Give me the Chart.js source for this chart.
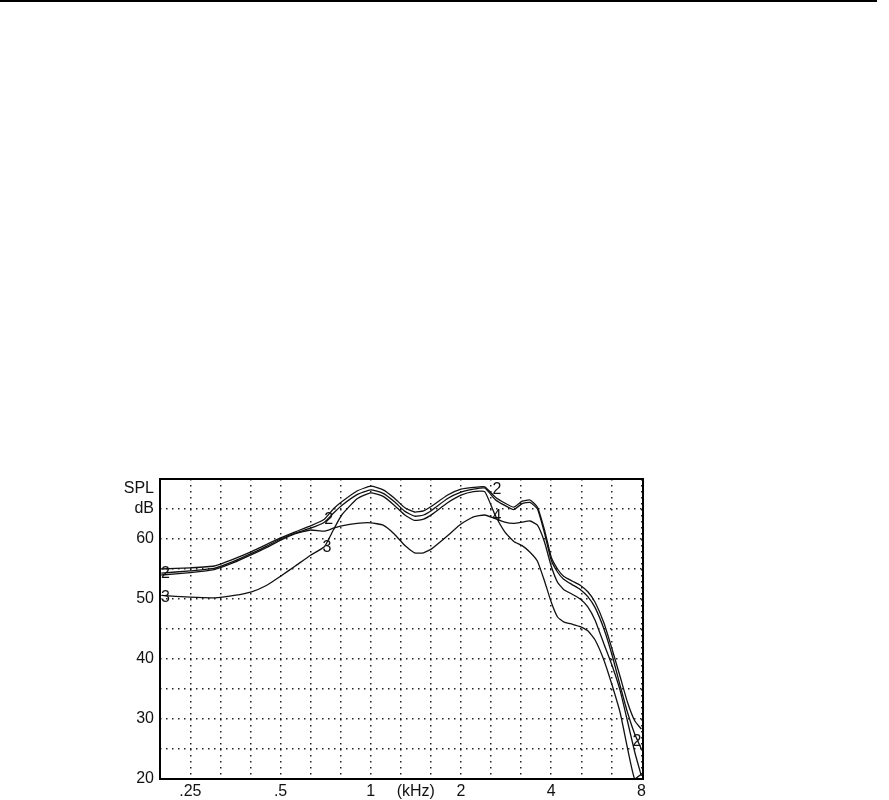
<!DOCTYPE html>
<html>
<head>
<meta charset="utf-8">
<script src="https://cdn.jsdelivr.net/npm/chart.js@4.4.1/dist/chart.umd.min.js"></script>
<style>
  html, body { margin: 0; padding: 0; background: #fff; }
  #topRule { position: absolute; left: 0; top: 0; width: 877px; height: 2px; background: #000; }
  #wrap { position: absolute; left: 0; top: 0; width: 889px; height: 800px; }
</style>
</head>
<body>
<div id="topRule"></div>
<div id="wrap"><canvas id="spl"></canvas></div>
<script>
// frequencies in kHz shared by all curves
const freqs = [0.2, 0.25, 0.3, 0.35, 0.4, 0.45, 0.5, 0.56, 0.63, 0.7, 0.75, 0.8, 0.9, 1.0, 1.1, 1.2, 1.3, 1.4, 1.5, 1.6, 1.8, 2.0, 2.2, 2.4, 2.6, 2.8, 3.0, 3.2, 3.4, 3.6, 3.8, 4.0, 4.2, 4.4, 4.7, 5.0, 5.3, 5.6, 6.0, 6.4, 6.8, 7.2, 7.6, 8.0];

const curve1 = [55.0, 55.2, 55.5, 56.7, 57.9, 59.1, 60.2, 61.2, 62.2, 63.3, 65.0, 66.2, 68.0, 68.8, 68.2, 66.8, 65.2, 64.5, 64.7, 65.5, 67.3, 68.3, 68.6, 68.7, 67.0, 66.0, 65.3, 66.3, 66.5, 65.3, 61.5, 57.0, 55.0, 53.8, 53.0, 52.3, 51.2, 49.5, 46.0, 41.5, 37.0, 32.7, 29.7, 28.3];
const curve2 = [54.3, 54.7, 55.1, 56.3, 57.6, 58.8, 60.0, 61.0, 61.8, 62.8, 64.3, 65.6, 67.4, 68.2, 67.6, 66.2, 64.6, 63.8, 64.0, 64.8, 66.7, 67.8, 68.3, 68.5, 66.6, 65.6, 64.9, 65.9, 66.1, 65.0, 61.0, 56.5, 54.5, 53.3, 52.4, 51.6, 50.4, 48.6, 45.0, 40.5, 35.5, 31.0, 27.5, 25.0];
const curve3 = [50.6, 50.3, 50.2, 50.6, 51.2, 52.3, 53.8, 55.5, 57.3, 58.7, 61.5, 64.0, 66.7, 67.7, 67.1, 65.6, 64.0, 63.1, 63.3, 64.1, 66.0, 67.3, 67.9, 67.9, 64.0, 61.2, 59.6, 58.9, 57.8, 56.3, 53.0, 49.5, 47.0, 46.2, 45.8, 45.4, 44.7, 43.2, 39.8, 35.5, 31.0, 25.0, 20.0, 20.8];
const curve4 = [54.0, 54.4, 54.9, 56.1, 57.4, 58.6, 59.8, 60.9, 61.5, 61.3, 61.8, 62.2, 62.6, 62.7, 62.3, 60.8, 58.9, 57.7, 57.7, 58.4, 60.5, 62.5, 63.7, 64.0, 63.4, 62.8, 62.6, 62.8, 63.0, 62.3, 59.5, 55.5, 52.8, 51.6, 50.8, 50.0, 48.7, 46.5, 42.5, 38.8, 34.7, 29.5, 24.5, 20.5];

// third-octave grid, labelled at the octaves
const gridFreqs = [0.25, 0.315, 0.397, 0.5, 0.63, 0.794, 1, 1.26, 1.587, 2, 2.52, 3.17, 4, 5.04, 6.35, 8];
const octaveLabels = { 0.25: '.25', 0.5: '.5', 1: '1', 2: '2', 4: '4', 8: '8' };
const unitFreq = 1.414;
const unitLabel = '(kHz)';

// curve number tags written on the plot
const tagText = ['2', '3', '2', '3', '2', '4', '2'];
const tagFreq = [0.2, 0.2, 0.7, 0.69, 2.55, 2.55, 8.0];
const tagDb = [54.3, 50.3, 63.3, 58.6, 68.3, 63.7, 26.2];

const seriesList = [curve1, curve2, curve3, curve4];

const frame = {
    id: 'frame',
    afterDraw(chart) {
        const a = chart.chartArea;
        const ctx = chart.ctx;
        ctx.save();
        ctx.strokeStyle = '#000';
        ctx.lineWidth = 2;
        ctx.strokeRect(a.left, a.top, a.right - a.left, a.bottom - a.top);
        ctx.restore();
    }
};

const tags = {
    id: 'tags',
    afterDatasetsDraw(chart) {
        const ctx = chart.ctx;
        const xs = chart.scales.x, ys = chart.scales.y;
        ctx.save();
        ctx.fillStyle = '#111';
        ctx.font = '16px "Liberation Sans", Arial, sans-serif';
        ctx.textBaseline = 'middle';
        tagText.forEach(function (t, i) {
            let px = xs.getPixelForValue(tagFreq[i]);
            ctx.textAlign = tagFreq[i] >= 8 ? 'right' : 'left';
            if (tagFreq[i] <= 0.2) px = chart.chartArea.left + 1;
            ctx.fillText(t, px, ys.getPixelForValue(tagDb[i]));
        });
        ctx.restore();
    }
};

const ticksAll = gridFreqs.concat([unitFreq]).sort(function (a, b) { return a - b; });

new Chart(document.getElementById('spl'), {
    type: 'line',
    data: {
        datasets: seriesList.map(function (s) {
            return {
                data: freqs.map(function (f, i) { return { x: f, y: s[i] }; }),
                borderColor: '#111',
                borderWidth: 1.3,
                pointRadius: 0,
                tension: 0.15,
                fill: false
            };
        })
    },
    options: {
        responsive: true,
        maintainAspectRatio: false,
        animation: false,
        layout: { padding: { left: 110, top: 479, right: 246, bottom: 1 } },
        plugins: { legend: { display: false }, tooltip: { enabled: false } },
        scales: {
            x: {
                type: 'logarithmic',
                min: 0.198,
                max: 8.1,
                afterBuildTicks: function (scale) {
                    scale.ticks = ticksAll.map(function (v) { return { value: v }; });
                },
                afterFit: function (scale) { scale.height = 20; },
                border: { display: false, dash: [1.5, 4.5] },
                grid: {
                    drawTicks: false,
                    color: function (c) { return c.tick && c.tick.value === unitFreq ? 'rgba(0,0,0,0)' : '#222'; },
                    lineWidth: 1.5
                },
                ticks: {
                    autoSkip: false,
                    maxRotation: 0,
                    padding: 3,
                    color: '#111',
                    font: { family: '"Liberation Sans", Arial, sans-serif', size: 16 },
                    callback: function (v) {
                        if (v === unitFreq) return unitLabel;
                        return octaveLabels[v] !== undefined ? octaveLabels[v] : '';
                    }
                }
            },
            y: {
                min: 20,
                max: 70,
                afterFit: function (scale) { scale.width = 50; },
                border: { display: false, dash: [1.5, 4.5] },
                grid: { drawTicks: false, color: '#222', lineWidth: 1.5 },
                ticks: {
                    stepSize: 5,
                    autoSkip: false,
                    padding: 6,
                    color: '#111',
                    font: { family: '"Liberation Sans", Arial, sans-serif', size: 16, lineHeight: 1.25 },
                    callback: function (v) {
                        if (v === 65) return ['SPL', 'dB', ''];
                        if (v === 70 || v % 10 !== 0) return '';
                        return String(v);
                    }
                }
            }
        }
    },
    plugins: [frame, tags]
});
</script>
</body>
</html>
